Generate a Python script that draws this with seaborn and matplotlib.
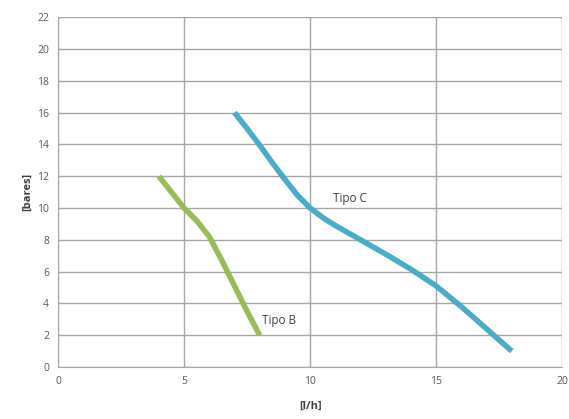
import pandas as pd
import numpy as np
import matplotlib.pyplot as plt
import seaborn as sns

sns.set_style('white')
plt.rcParams['font.family'] = ['Open Sans', 'DejaVu Sans']

# curve values
tipo_b_x = [4, 4.5, 5, 5.5, 6, 6.5, 7, 7.5, 8]
tipo_b_y = [12, 11.0, 10, 9.2, 8.2, 6.7, 5.1, 3.5, 2]
tipo_c_x = [7, 7.5, 8, 8.5, 9, 9.5, 10, 10.5, 11, 12, 13, 14, 15, 16, 17, 18]
tipo_c_y = [16, 15.0, 13.95, 12.85, 11.8, 10.8, 10.0, 9.4, 8.9, 8.0, 7.1, 6.15, 5.1, 3.8, 2.4, 1]

dfB = pd.DataFrame({'x': tipo_b_x, 'y': tipo_b_y})
dfC = pd.DataFrame({'x': tipo_c_x, 'y': tipo_c_y})

fig = plt.figure(figsize=(5.69, 4.19), dpi=100)
ax = fig.add_axes([0.102, 0.124, 0.886, 0.835])

sns.lineplot(data=dfB, x='x', y='y', color='#9bbb59', linewidth=4,
             sort=False, ax=ax, solid_capstyle='butt', solid_joinstyle='round')
sns.lineplot(data=dfC, x='x', y='y', color='#4bacc6', linewidth=4,
             sort=False, ax=ax, solid_capstyle='butt', solid_joinstyle='round')

ax.text(10.9, 10.6, 'Tipo C', fontsize=8.5, color='#404040', va='center')
ax.text(8.1, 2.95, 'Tipo B', fontsize=8.5, color='#404040', va='center')

ax.set_xlim(0, 20)
ax.set_ylim(0, 22)
ax.set_xticks(np.arange(0, 21, 5))
ax.set_yticks(np.arange(0, 23, 2))
ax.grid(True, color='#a6a6a6', linewidth=1)
ax.set_axisbelow(True)
for s in ['top', 'right']:
    ax.spines[s].set_visible(False)
for s in ['left', 'bottom']:
    ax.spines[s].set_color('#a6a6a6')
ax.tick_params(labelsize=7.5, colors='#595959', length=3, direction='out')
ax.tick_params(axis='both', color='#a6a6a6')
ax.set_xlabel('[l/h]', fontsize=8, fontweight='bold', color='#404040', labelpad=10)
ax.set_ylabel('[bares]', fontsize=8, fontweight='bold', color='#404040', labelpad=3)

plt.savefig('out.png', dpi=100)
